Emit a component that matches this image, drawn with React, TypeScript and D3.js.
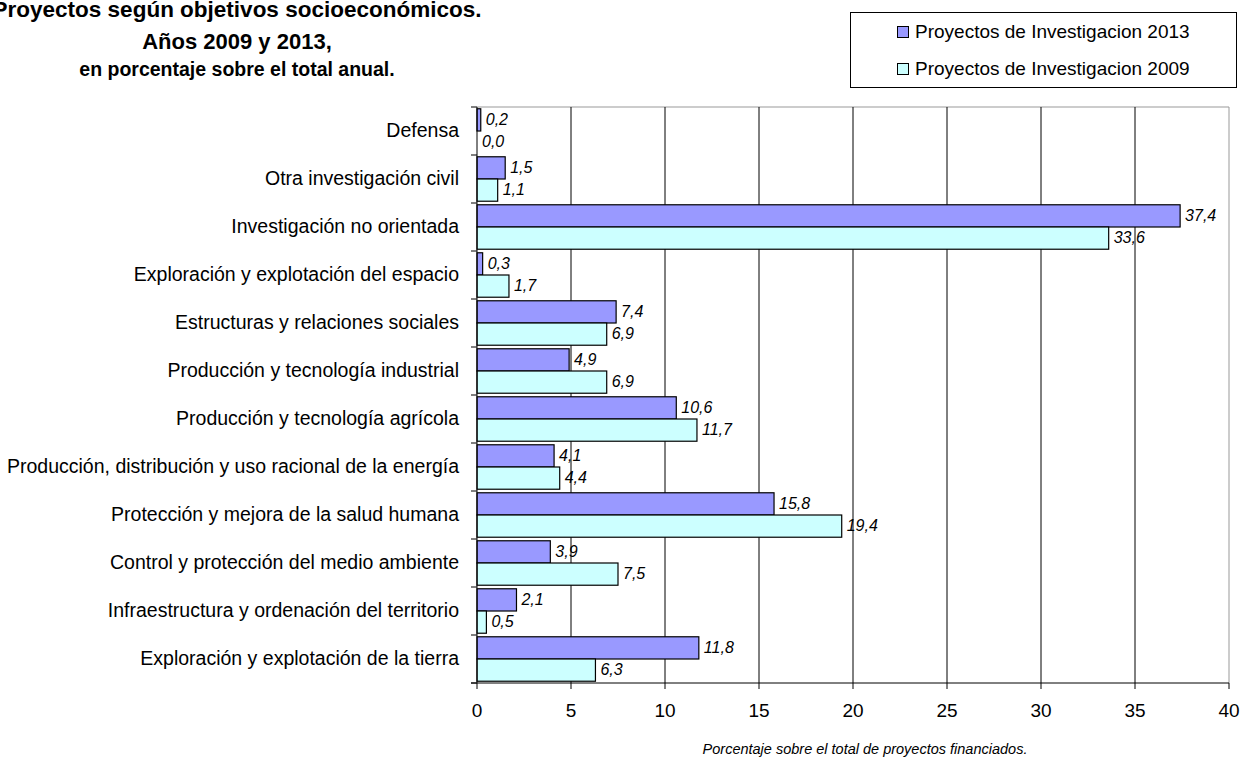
import React, { useRef, useEffect } from "react";
import * as d3 from "d3";

const categories = [
  "Defensa",
  "Otra investigación civil",
  "Investigación no orientada",
  "Exploración y explotación del espacio",
  "Estructuras y relaciones sociales",
  "Producción y tecnología industrial",
  "Producción y tecnología agrícola",
  "Producción, distribución y uso racional de la energía",
  "Protección y mejora de la salud humana",
  "Control y protección del medio ambiente",
  "Infraestructura y ordenación del territorio",
  "Exploración y explotación de la tierra",
];

const values2013 = [0.2, 1.5, 37.4, 0.3, 7.4, 4.9, 10.6, 4.1, 15.8, 3.9, 2.1, 11.8];
const values2009 = [0.0, 1.1, 33.6, 1.7, 6.9, 6.9, 11.7, 4.4, 19.4, 7.5, 0.5, 6.3];

const seriesNames = ["Proyectos de Investigacion 2013", "Proyectos de Investigacion 2009"];
const xTicks = [0, 5, 10, 15, 20, 25, 30, 35, 40];

const W = 1244;
const H = 758;
const FONT = "Arial, 'Liberation Sans', Helvetica, sans-serif";

const App: React.FC = () => {
  const svgRef = useRef<SVGSVGElement>(null);

  useEffect(() => {
    const svg = d3.select(svgRef.current);
    svg.selectAll("*").remove();

    const left = 477;
    const right = 1229;
    const top = 107;
    const bottom = 683;

    const x = d3.scaleLinear().domain([0, 40]).range([left, right]);
    const y = d3.scaleBand().domain(categories).range([top, bottom]);
    const inner = d3
      .scaleBand()
      .domain(["2013", "2009"])
      .range([0, y.bandwidth()])
      .paddingOuter(0.08)
      .paddingInner(0);

    const colors = { "2013": "#9999FF", "2009": "#CCFFFF" };

    // plot border (top + right, grey)
    svg
      .append("path")
      .attr("d", `M${left},${top}H${right}V${bottom}`)
      .attr("fill", "none")
      .attr("stroke", "#999");

    // vertical gridlines
    svg
      .selectAll(".grid")
      .data(xTicks.filter((t) => t > 0 && t < 40))
      .join("line")
      .attr("x1", (d) => x(d))
      .attr("x2", (d) => x(d))
      .attr("y1", top)
      .attr("y2", bottom)
      .attr("stroke", "#000")
      .attr("stroke-width", 1);

    // bars
    const rows = categories.map((c, i) => ({ c, v13: values2013[i], v09: values2009[i] }));
    const groups = svg
      .selectAll(".row")
      .data(rows)
      .join("g")
      .attr("transform", (d) => `translate(0,${y(d.c)})`);

    const drawSeries = (key: "2013" | "2009", acc: (d: any) => number) => {
      groups
        .filter((d) => acc(d) > 0)
        .append("rect")
        .attr("x", x(0))
        .attr("y", inner(key)!)
        .attr("width", (d) => x(acc(d)) - x(0))
        .attr("height", inner.bandwidth())
        .attr("fill", colors[key])
        .attr("stroke", "#000")
        .attr("stroke-width", 1.2);

      groups
        .append("text")
        .attr("x", (d) => x(acc(d)) + 5)
        .attr("y", inner(key)! + inner.bandwidth() / 2 + 1)
        .attr("dominant-baseline", "middle")
        .attr("font-family", FONT)
        .attr("font-style", "italic")
        .attr("font-size", 16)
        .attr("fill", "#000")
        .text((d) => d3.format(".1f")(acc(d)).replace(".", ","));
    };
    drawSeries("2013", (d) => d.v13);
    drawSeries("2009", (d) => d.v09);

    // left axis
    const yAxis = svg
      .append("g")
      .attr("transform", `translate(${left},0)`);
    yAxis
      .append("line")
      .attr("x1", 0)
      .attr("x2", 0)
      .attr("y1", top)
      .attr("y2", bottom)
      .attr("stroke", "#000");
    const boundaries = categories.map((c) => y(c)!).concat([bottom]);
    yAxis
      .selectAll(".btick")
      .data(boundaries)
      .join("line")
      .attr("x1", -6)
      .attr("x2", 0)
      .attr("y1", (d) => d)
      .attr("y2", (d) => d)
      .attr("stroke", "#000");
    svg
      .selectAll(".clabel")
      .data(categories)
      .join("text")
      .attr("x", 459)
      .attr("y", (d) => y(d)! + y.bandwidth() / 2 + 1)
      .attr("text-anchor", "end")
      .attr("dominant-baseline", "middle")
      .attr("font-family", FONT)
      .attr("font-size", 19.5)
      .attr("fill", "#000")
      .text((d) => d);

    // bottom axis
    svg
      .append("line")
      .attr("x1", left - 6)
      .attr("x2", right)
      .attr("y1", bottom)
      .attr("y2", bottom)
      .attr("stroke", "#000");
    svg
      .selectAll(".xtick")
      .data(xTicks)
      .join("line")
      .attr("x1", (d) => x(d))
      .attr("x2", (d) => x(d))
      .attr("y1", bottom)
      .attr("y2", bottom + 6)
      .attr("stroke", "#000");
    svg
      .selectAll(".xlabel")
      .data(xTicks)
      .join("text")
      .attr("x", (d) => x(d))
      .attr("y", 712)
      .attr("text-anchor", "middle")
      .attr("dominant-baseline", "middle")
      .attr("font-family", FONT)
      .attr("font-size", 19)
      .attr("fill", "#000")
      .text((d) => d);

    svg
      .append("text")
      .attr("x", 865)
      .attr("y", 754)
      .attr("text-anchor", "middle")
      .attr("font-family", FONT)
      .attr("font-style", "italic")
      .attr("font-size", 14.5)
      .text("Porcentaje sobre el total de proyectos financiados.");

    // title (the reference shows its first line running past the left edge)
    const titleLines = [
      { t: "Proyectos según objetivos socioeconómicos.", y: 17, s: 22.5 },
      { t: "Años 2009 y 2013,", y: 49, s: 22 },
      { t: "en porcentaje sobre el total anual.", y: 76, s: 19.5 },
    ];
    svg
      .selectAll(".title")
      .data(titleLines)
      .join("text")
      .attr("x", 237)
      .attr("y", (d) => d.y)
      .attr("text-anchor", "middle")
      .attr("font-family", FONT)
      .attr("font-weight", "bold")
      .attr("font-size", (d) => d.s)
      .text((d) => d.t);

    // legend
    const lg = svg.append("g");
    lg.append("rect")
      .attr("x", 850.5)
      .attr("y", 12.5)
      .attr("width", 386)
      .attr("height", 75)
      .attr("fill", "#fff")
      .attr("stroke", "#000");
    const legendItems = [
      { name: seriesNames[0], color: colors["2013"], y: 32 },
      { name: seriesNames[1], color: colors["2009"], y: 69 },
    ];
    legendItems.forEach((it) => {
      lg.append("rect")
        .attr("x", 897.5)
        .attr("y", it.y - 5.5)
        .attr("width", 11)
        .attr("height", 11)
        .attr("fill", it.color)
        .attr("stroke", "#000");
      lg.append("text")
        .attr("x", 915)
        .attr("y", it.y + 1)
        .attr("dominant-baseline", "middle")
        .attr("font-family", FONT)
        .attr("font-size", 19)
        .text(it.name);
    });
  }, []);

  return (
    <svg
      ref={svgRef}
      width={W}
      height={H}
      style={{ position: "absolute", left: 0, top: 0, background: "#fff" }}
    />
  );
};

export default App;
